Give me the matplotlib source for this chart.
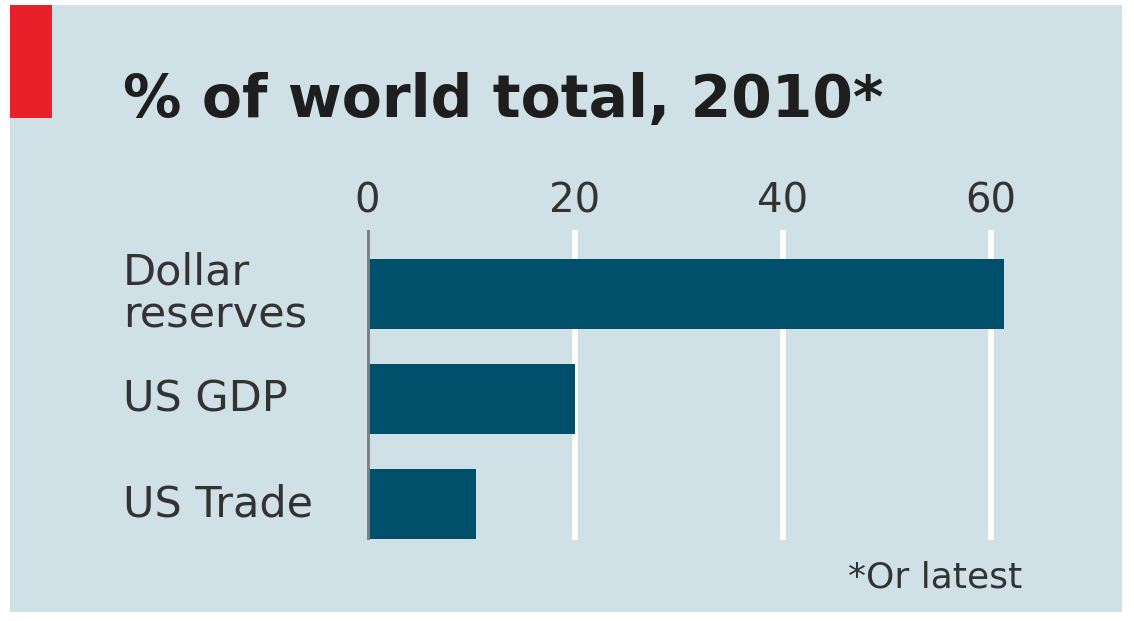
import matplotlib
matplotlib.use("Agg")
from matplotlib import pyplot as plt
from matplotlib.patches import Rectangle

# datos del grafico
categorias = ["Dollar\nreserves", "US GDP", "US Trade"]
valores = [61.3, 20.0, 10.5]
ticks = [0, 20, 40, 60]

fondo = "#d0e0e7"
color_barra = "#00506b"
color_texto = "#333333"

fig = plt.figure(figsize=(11.34, 6.21), dpi=100)
fig.patch.set_facecolor("white")

# fondo azul claro y marca roja
fig.add_artist(Rectangle((10 / 1134, 1 - 612 / 621), 1112 / 1134, 607 / 621,
                         transform=fig.transFigure, facecolor=fondo, zorder=-2))
fig.add_artist(Rectangle((10 / 1134, 1 - 118 / 621), 42 / 1134, 113 / 621,
                         transform=fig.transFigure, facecolor="#e8202a", zorder=-1))

fig.text(123 / 1134, 1 - 117 / 621, "% of world total, 2010*", fontsize=42,
         fontweight="bold", color="#1e1e1e", ha="left", va="baseline")

ax = fig.add_axes([367 / 1134, 1 - 540 / 621, 655 / 1134, 310 / 621])
ax.set_facecolor(fondo)
ax.patch.set_alpha(0)
ax.set_xlim(0, 63)
ax.set_ylim(2.34, -0.61)

for t in ticks[1:]:
    ax.axvline(t, color="white", lw=4, zorder=1)

y = list(range(len(categorias)))
ax.barh(y, valores, height=0.67, color=color_barra, zorder=2)
ax.axvline(0, color="#7a7f84", lw=3.5, zorder=3)

for s in ax.spines.values():
    s.set_visible(False)
ax.set_yticks([])
ax.xaxis.tick_top()
ax.set_xticks(ticks)
ax.set_xticklabels([str(t) for t in ticks], fontsize=29, color=color_texto)
ax.tick_params(axis="x", length=0, pad=6)

for yi, cat in zip(y, categorias):
    ax.text(-244 / 10.4, yi, cat, fontsize=31, color=color_texto,
            ha="left", va="center", linespacing=1.05)

fig.text(1022 / 1134, 1 - 578 / 621, "*Or latest", fontsize=26, color=color_texto,
         ha="right", va="center")

fig.savefig("out.png", dpi=100, facecolor=fig.get_facecolor())
